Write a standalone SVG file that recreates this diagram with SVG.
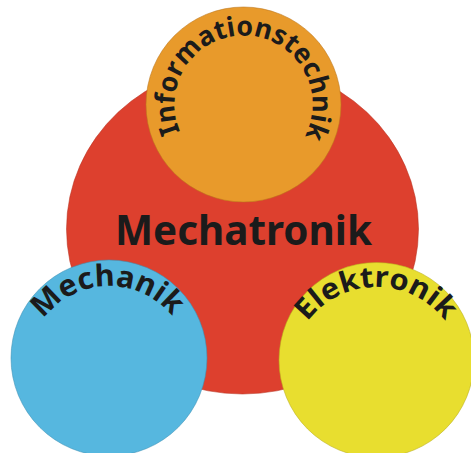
<svg xmlns="http://www.w3.org/2000/svg" width="471" height="453" viewBox="0 0 471 453">
  <defs>
    <style>
      .disc { stroke-width: 1; stroke-opacity: 0.55; }
      .lbl { font-family: "Noto Sans", "DejaVu Sans", sans-serif; font-weight: bold; fill: #1b1b1b; }
    </style>
    <!-- baselines for the curved labels -->
    <path id="arc-info" d="M180.0,131.5 A69,69 0 1 1 305.0,135.8"/>
    <path id="arc-mech" d="M43.5,319.4 A81,81 0 0 1 171.9,316.0"/>
    <path id="arc-elek" d="M307.5,321.6 A86,86 0 0 1 444.8,320.8"/>
  </defs>

  <rect width="471" height="453" fill="#ffffff"/>

  <g id="mechatronik">
    <ellipse class="disc" cx="242.5" cy="229" rx="176" ry="165" fill="#dd402e" stroke="#b8321f"/>
    <text class="lbl" x="243.5" y="245" font-size="42" text-anchor="middle" textLength="257" lengthAdjust="spacingAndGlyphs">Mechatronik</text>
  </g>

  <g id="informationstechnik">
    <circle class="disc" cx="243.5" cy="104.5" r="97.5" fill="#e89a2b" stroke="#b9741c"/>
    <text class="lbl" font-size="27"><textPath href="#arc-info" textLength="277" lengthAdjust="spacingAndGlyphs">Informationstechnik</textPath></text>
  </g>

  <g id="mechanik">
    <circle class="disc" cx="109" cy="358" r="98" fill="#56b7df" stroke="#3d8fb4"/>
    <text class="lbl" font-size="30"><textPath href="#arc-mech" textLength="148" lengthAdjust="spacingAndGlyphs">Mechanik</textPath></text>
  </g>

  <g id="elektronik">
    <circle class="disc" cx="376.5" cy="360" r="97.5" fill="#e8de2f" stroke="#b8ad1c"/>
    <text class="lbl" font-size="29"><textPath href="#arc-elek" textLength="159" lengthAdjust="spacingAndGlyphs">Elektronik</textPath></text>
  </g>

  <g id="connectors"/>
</svg>
